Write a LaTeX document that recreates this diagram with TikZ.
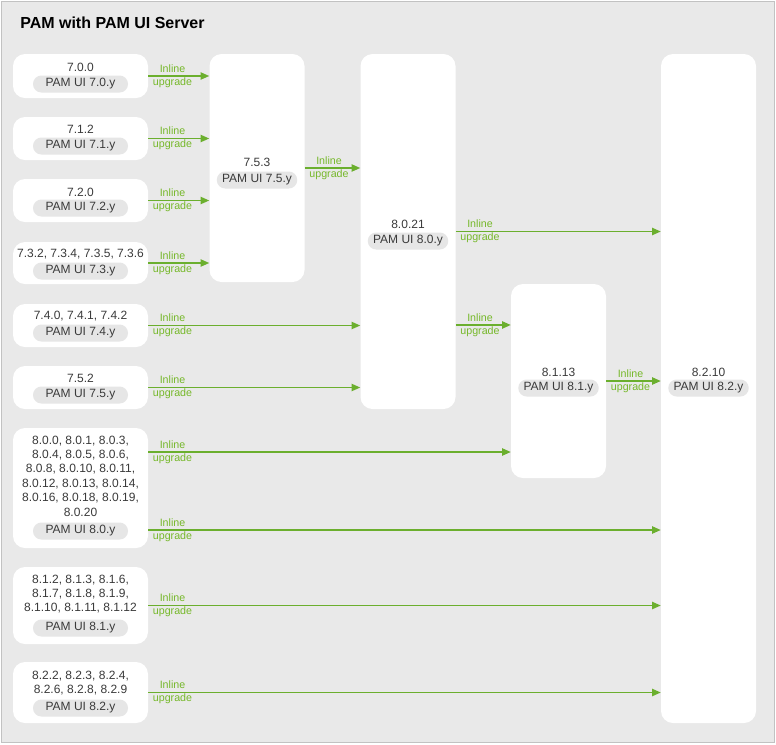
\documentclass[tikz,border=0pt]{standalone}
\usepackage{fontspec}
\setmainfont{Liberation Sans}
\usepackage{xcolor}
\usepackage{tikz}
\usetikzlibrary{arrows.meta,calc}

\definecolor{bggray}{HTML}{E9E9E9}
\definecolor{framegray}{HTML}{C2C2C2}
\definecolor{pillgray}{HTML}{E6E6E6}
\definecolor{txtgray}{HTML}{3A3A3A}
\definecolor{upgreen}{HTML}{6BAF2E}
\definecolor{lblgreen}{HTML}{76B82A}

\begin{document}
\begin{tikzpicture}[x=0.75pt,y=-0.75pt,
  verbox/.style={fill=white, rounded corners=9pt, inner sep=0pt},
  leftbox/.style={verbox, minimum width=101.25pt},
  colbox/.style={verbox, minimum width=71.25pt},
  vertext/.style={text=txtgray, font=\fontsize{9}{10.8}\selectfont, align=center, inner sep=0pt},
  pill/.style={fill=pillgray, text=txtgray, font=\fontsize{9}{10.8}\selectfont, rounded corners=6.3pt, minimum height=12.75pt, inner xsep=4pt, inner ysep=0pt},
  leftpill/.style={pill, minimum width=71.25pt},
  upg/.style={draw=upgreen, line width=1pt, -{Triangle[length=6.5pt,width=5.5pt]}},
  upglabel/.style={text=lblgreen, font=\fontsize{8}{9.75}\selectfont, align=center, anchor=west, inner sep=0pt, xshift=3pt}
]
\useasboundingbox (0,0) rectangle (776,744);

% Frame and title
\draw[framegray, fill=bggray, line width=0.75pt] (1,1) rectangle (774,742);
\node[anchor=west, inner sep=0pt, font=\bfseries\fontsize{12}{14}\selectfont] (title) at (20,23) {PAM with PAM UI Server};

% Left column: source versions
\node[leftbox, minimum height=33pt] (b70) at (80.5,76) {};
\node[vertext] (t70) at (80.5,67) {7.0.0};
\node[leftpill] (p70) at (80.5,84) {PAM UI 7.0.y};

\node[leftbox, minimum height=32.25pt] (b71) at (80.5,138.5) {};
\node[vertext] (t71) at (80.5,129) {7.1.2};
\node[leftpill] (p71) at (80.5,146) {PAM UI 7.1.y};

\node[leftbox, minimum height=32.25pt] (b72) at (80.5,200.5) {};
\node[vertext] (t72) at (80.5,192) {7.2.0};
\node[leftpill] (p72) at (80.5,208) {PAM UI 7.2.y};

\node[leftbox, minimum height=31.5pt] (b73) at (80.5,263) {};
\node[vertext] (t73) at (80.5,254) {7.3.2, 7.3.4, 7.3.5, 7.3.6};
\node[leftpill] (p73) at (80.5,271) {PAM UI 7.3.y};

\node[leftbox, minimum height=32.25pt] (b74) at (80.5,325.5) {};
\node[vertext] (t74) at (80.5,316) {7.4.0, 7.4.1, 7.4.2};
\node[leftpill] (p74) at (80.5,333) {PAM UI 7.4.y};

\node[leftbox, minimum height=32.25pt] (b75) at (80.5,387.5) {};
\node[vertext] (t75) at (80.5,378) {7.5.2};
\node[leftpill] (p75) at (80.5,395) {PAM UI 7.5.y};

\node[leftbox, minimum height=90pt] (b80) at (80.5,488) {};
\node[vertext] (t80) at (80.5,476) {8.0.0, 8.0.1, 8.0.3,\\8.0.4, 8.0.5, 8.0.6,\\8.0.8, 8.0.10, 8.0.11,\\8.0.12, 8.0.13, 8.0.14,\\8.0.16, 8.0.18, 8.0.19,\\8.0.20};
\node[leftpill] (p80) at (80.5,531) {PAM UI 8.0.y};

\node[leftbox, minimum height=57.75pt] (b81) at (80.5,605.5) {};
\node[vertext] (t81) at (80.5,594) {8.1.2, 8.1.3, 8.1.6,\\8.1.7, 8.1.8, 8.1.9,\\8.1.10, 8.1.11, 8.1.12};
\node[leftpill] (p81) at (80.5,628) {PAM UI 8.1.y};

\node[leftbox, minimum height=45.75pt] (b82) at (80.5,692.5) {};
\node[vertext] (t82) at (80.5,683) {8.2.2, 8.2.3, 8.2.4,\\8.2.6, 8.2.8, 8.2.9};
\node[leftpill] (p82) at (80.5,708) {PAM UI 8.2.y};

% Target versions
\node[colbox, minimum height=171pt] (c753) at (257,168) {};
\node[vertext] (t753) at (257,162) {7.5.3};
\node[pill] (p753) at (257,180) {PAM UI 7.5.y};

\node[colbox, minimum height=266.25pt] (c8021) at (408,231.5) {};
\node[vertext] (t8021) at (408,224) {8.0.21};
\node[pill] (p8021) at (408,241) {PAM UI 8.0.y};

\node[colbox, minimum height=145.5pt] (c8113) at (558.5,381) {};
\node[vertext] (t8113) at (558.5,372) {8.1.13};
\node[pill] (p8113) at (558.5,388) {PAM UI 8.1.y};

\node[colbox, minimum height=501.75pt] (c8210) at (708.5,388.5) {};
\node[vertext] (t8210) at (708.5,372) {8.2.10};
\node[pill] (p8210) at (708.5,388) {PAM UI 8.2.y};

% Upgrade paths
\draw[upg] (b70) -- (b70 -| c753.west) node[pos=0, upglabel] {Inline\\upgrade};
\draw[upg] (b71) -- (b71 -| c753.west) node[pos=0, upglabel] {Inline\\upgrade};
\draw[upg] (b72) -- (b72 -| c753.west) node[pos=0, upglabel] {Inline\\upgrade};
\draw[upg] (b73) -- (b73 -| c753.west) node[pos=0, upglabel] {Inline\\upgrade};
\draw[upg] (c753) -- (c753 -| c8021.west) node[pos=0, upglabel] {Inline\\upgrade};
\draw[upg] (b74) -- (b74 -| c8021.west) node[pos=0, upglabel] {Inline\\upgrade};
\draw[upg] (b75) -- (b75 -| c8021.west) node[pos=0, upglabel] {Inline\\upgrade};
\draw[upg] (c8021) -- (c8021 -| c8210.west) node[pos=0, upglabel] {Inline\\upgrade};

\coordinate (s8021) at ([yshift=-70.1pt]c8021.east);
\draw[upg] (s8021) -- (s8021 -| c8113.west) node[pos=0, upglabel] {Inline\\upgrade};
\draw[upg] (c8113) -- (c8113 -| c8210.west) node[pos=0, upglabel] {Inline\\upgrade};

\coordinate (s80a) at ([yshift=27pt]b80.east);
\coordinate (s80b) at ([yshift=-31.5pt]b80.east);
\draw[upg] (s80a) -- (s80a -| c8113.west) node[pos=0, upglabel] {Inline\\upgrade};
\draw[upg] (s80b) -- (s80b -| c8210.west) node[pos=0, upglabel] {Inline\\upgrade};
\draw[upg] (b81) -- (b81 -| c8210.west) node[pos=0, upglabel] {Inline\\upgrade};
\draw[upg] (b82) -- (b82 -| c8210.west) node[pos=0, upglabel] {Inline\\upgrade};
\end{tikzpicture}
\end{document}
